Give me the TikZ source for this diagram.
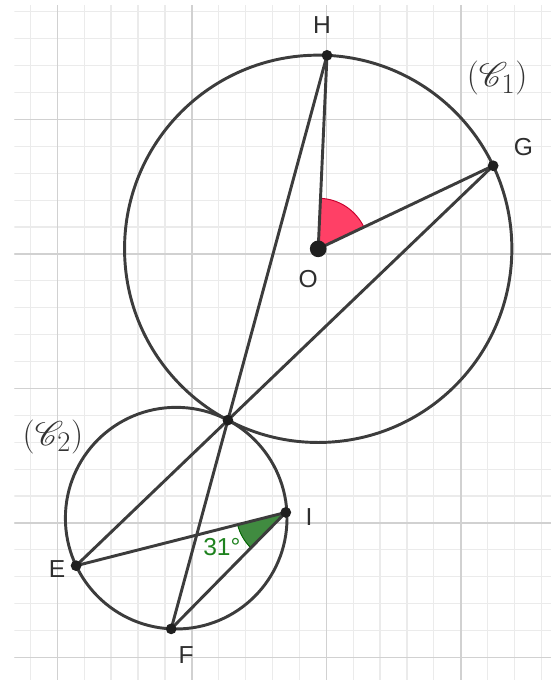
\documentclass[tikz,border=0pt]{standalone}
\usepackage{tkz-euclide}
\usepackage{graphicx}
\usepackage{mathrsfs}
\usepackage{fontspec}
\newfontfamily\ggbfont{Liberation Sans}
\usetikzlibrary{calc}
\definecolor{angred}{RGB}{255,64,102}
\definecolor{angredline}{RGB}{200,0,45}
\definecolor{anggreen}{RGB}{64,139,64}
\definecolor{anggreenline}{RGB}{0,100,0}
\definecolor{txtgreen}{RGB}{30,130,30}
\definecolor{seggray}{RGB}{60,60,60}
\newcommand{\circname}[1]{\scalebox{1.45}{$(\mathscr{C}_{#1})$}}
\tikzset{
  gridminor/.style={step=1,draw=black!8,line width=1.3pt},
  gridmajor/.style={step=5,draw=black!18,line width=1.6pt},
  geoline/.style={draw=seggray,line width=3.1pt,line cap=round},
  ptlabel/.style={font=\ggbfont\fontsize{26}{30}\selectfont,text=black!82,inner sep=0pt},
  circlabel/.style={font=\fontsize{24.88}{30}\selectfont,text=black!80,inner sep=0pt}
}

\begin{document}
\begin{tikzpicture}
        \useasboundingbox (-12.13,-15.84) rectangle (8.58,9.44);
        \begin{scope}
          \clip (-11.6,-15.84) rectangle (8.35,9.22);
          \draw[gridminor] (-15,-20) grid (10,10);
          \draw[gridmajor] (-15,-20) grid (10,10);
        \end{scope}
        % circle (C1)
        \coordinate (O) at (-0.3,0.19);
        \coordinate (H) at ($(O)+(87.4:7.2)$);
        \coordinate (G) at ($(O)+(25.4:7.2)$);
        \coordinate (T) at ($(O)+(242.2:7.2)$);
        % circle (C2), tangent at T
        \coordinate (P) at ($(O)+(242.2:11.32)$);
        \coordinate (E) at ($(P)+(205.4:4.12)$);
        \coordinate (F) at ($(P)+(267.4:4.12)$);
        \coordinate (I) at ($(P)+(3:4.08)$);
        \tkzFillAngle[size=1.88,fill=angred,draw=angredline,line width=1pt](G,O,H)
        \tkzFillAngle[size=1.85,fill=anggreen,draw=anggreenline,line width=1pt](E,I,F)
        \tkzDrawCircle[geoline](O,H)
        \tkzDrawCircle[geoline](P,F)
        \tkzDrawSegments[geoline](H,F G,E O,H O,G E,I F,I)
        \foreach \pt in {H,G,T,E,F,I}
          \fill[black!88] (\pt) circle (0.2);
        \fill[black!88] (O) circle (0.31);
        \node[ptlabel] (labH) at ($(H)+(-0.19,1.12)$) {H};
        \node[ptlabel] (labO) at ($(O)+(-0.37,-1.14)$) {O};
        \node[ptlabel] (labG) at ($(G)+(1.13,0.70)$) {G};
        \node[ptlabel] (labI) at ($(I)+(0.86,-0.16)$) {I};
        \node[ptlabel] (labE) at ($(E)+(-0.71,-0.11)$) {E};
        \node[ptlabel] (labF) at ($(F)+(0.56,-0.99)$) {F};
        \node[ptlabel,text=txtgreen] (angI) at (-3.88,-10.9) {31°};
        \node[circlabel] (c1) at (6.35,6.54) {\circname{1}};
        \node[circlabel] (c2) at (-10.16,-6.80) {\circname{2}};
    \end{tikzpicture}
\end{document}
